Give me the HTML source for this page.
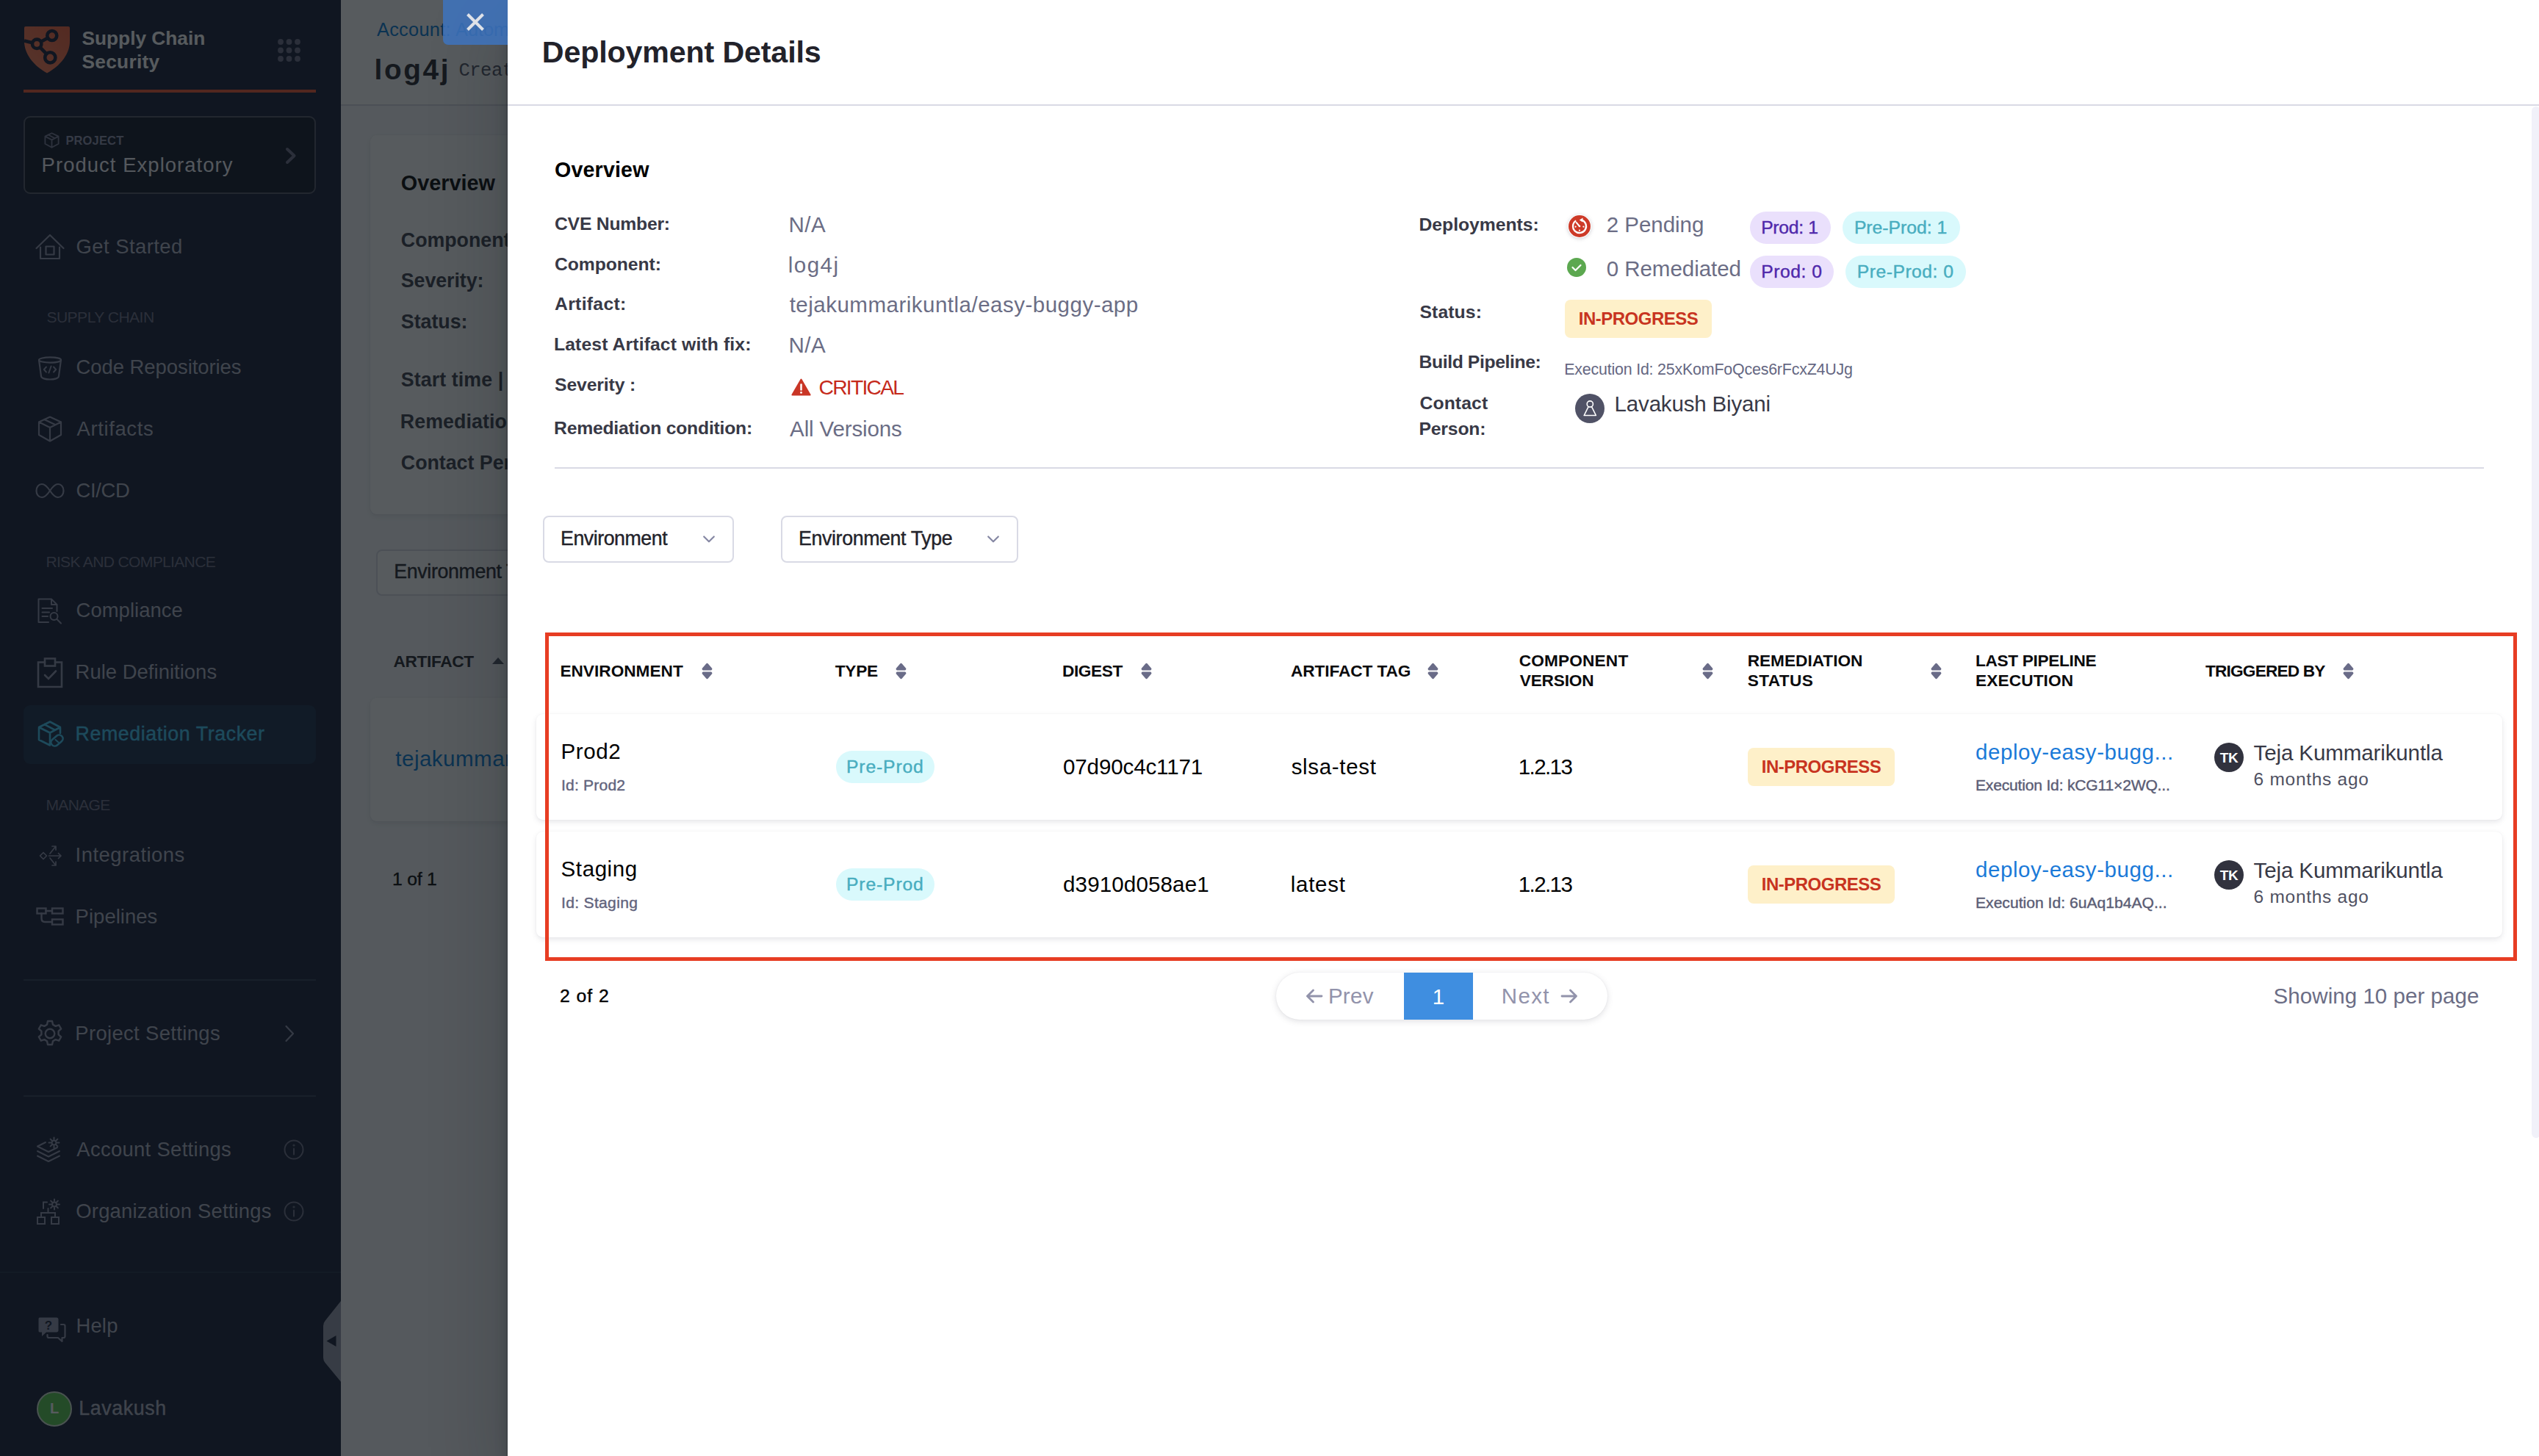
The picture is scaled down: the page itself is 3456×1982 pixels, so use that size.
<!DOCTYPE html>
<html lang="en"><head><meta charset="utf-8"><title>Deployment Details</title>
<style>
html,body{margin:0;padding:0}
html{background:#fff;overflow:hidden}
body{width:3456px;height:1982px;position:relative;overflow:hidden;background:#fafbfc;font-family:"Liberation Sans",sans-serif;}
.t{position:absolute;white-space:nowrap}
.a{position:absolute}
.clip{position:absolute;overflow:hidden;top:0;height:1982px}
.clip>.in{position:absolute;top:0;width:3456px;height:1982px}
#sidebar{left:0;width:464px;background:#111932}
#page{left:464px;width:240px;background:#f8f9fb}
#page>.in{left:-464px}
#overlay{position:absolute;left:0;top:0;width:3456px;height:1982px;background:rgba(16,22,26,.7)}
#drawer{left:691px;width:2765px;background:#fff}
#drawer>.in{left:-691px}
#dshadow{position:absolute;left:691px;top:0;width:2765px;height:1982px;box-shadow:0 0 0 2px rgba(16,22,26,.1),0 8px 16px rgba(16,22,26,.2),0 36px 92px 12px rgba(16,22,26,.2)}
svg{position:absolute;overflow:visible}
.ic{fill:none;stroke:#8e90aa;stroke-width:2.2;stroke-linecap:round;stroke-linejoin:round}
.pill{position:absolute;border-radius:40px;text-align:center;white-space:nowrap}
.badge{position:absolute;border-radius:8px;background:#fef0c9;color:#c8341f;font-weight:700;text-align:center;white-space:nowrap}
.card{position:absolute;background:#fff;border-radius:9px;box-shadow:0 0 2px rgba(40,41,61,.05),0 3px 7px rgba(96,97,112,.15)}
.sel{position:absolute;box-sizing:border-box;border:2px solid #d9dae5;border-radius:8px;background:#fff}
</style></head>
<body>
<!-- ============ SIDEBAR ============ -->
<div id="sidebar" class="clip"><div class="in">
<svg style="left:33px;top:36px" width="62" height="64" viewBox="0 0 62 64">
 <defs><linearGradient id="shg" x1="0" y1="1" x2="1" y2="0"><stop offset="0" stop-color="#ff8058"/><stop offset="1" stop-color="#f25c36"/></linearGradient></defs>
 <path d="M2 0H60Q62 0 62 2V20C62 37 50 53 31 63.500C12 53 0 37 0 20V2Q0 0 2 0Z" fill="url(#shg)"/>
 <g fill="none" stroke="#111932" stroke-width="4.600"><circle cx="37.800" cy="12.500" r="6.500"/><circle cx="17.200" cy="23.800" r="6.200"/><circle cx="35.300" cy="42.400" r="7.100"/><path d="M32 15.700L22.700 20.800M21.500 28.300L30.300 37.400M0 19.500L11.200 22.300"/></g>
</svg>
<svg style="left:378px;top:53px" width="31" height="31" viewBox="0 0 31 31" fill="#6b6d85">
 <circle cx="4" cy="4" r="3.9"/><circle cx="15.5" cy="4" r="3.9"/><circle cx="27" cy="4" r="3.9"/>
 <circle cx="4" cy="15.5" r="3.9"/><circle cx="15.5" cy="15.5" r="3.9"/><circle cx="27" cy="15.5" r="3.9"/>
 <circle cx="4" cy="27" r="3.9"/><circle cx="15.5" cy="27" r="3.9"/><circle cx="27" cy="27" r="3.9"/>
</svg>
<div class="a" style="left:32px;top:122px;width:398px;height:4px;background:#f0532d"></div>
<div class="a" style="left:32px;top:158px;width:398px;height:106px;box-sizing:border-box;border:2px solid #4f5162;border-radius:9px;background:rgba(0,0,0,.28)"></div>
<svg style="left:60px;top:180px" width="21" height="22" viewBox="0 0 21 22"><g class="ic" style="stroke:#74768f;stroke-width:1.8"><path d="M10.5 1.2L19.6 5.6V15.8L10.5 20.8L1.4 15.8V5.6ZM1.4 5.6L10.5 10.4L19.6 5.6M10.5 10.4V20.8M5.6 3.5L14.8 8.2"/></g></svg>
<svg style="left:388px;top:200px" width="16" height="24" viewBox="0 0 16 24"><path d="M3 3L12.5 12L3 21" fill="none" stroke="#6b6d85" stroke-width="4" stroke-linecap="round" stroke-linejoin="round"/></svg>

<!-- nav icons -->
<svg style="left:48px;top:318px" width="40" height="36" viewBox="0 0 40 36"><g class="ic"><path d="M1.5 20L20 2L38.5 20M7 18.5V34H33V18.5"/><rect x="14.5" y="17.5" width="11" height="11"/></g></svg>
<svg style="left:51px;top:485px" width="34" height="33" viewBox="0 0 34 33"><g class="ic"><ellipse cx="17" cy="5" rx="15" ry="3.6"/><path d="M2 5L5 27C5 30 11 31.5 17 31.5S29 30 29 27L32 5"/><path d="M12 14.5L8.8 18L12 21.5M22 14.5L25.2 18L22 21.5M18.6 13.5L15.4 22.5" style="stroke-width:1.9"/></g></svg>
<svg style="left:51px;top:566px" width="34" height="36" viewBox="0 0 34 36"><g class="ic"><path d="M17 1.5L32 8.5V26L17 34.5L2 26V8.5ZM2 8.5L17 16L32 8.5M17 16V34.5M9.2 5L24.5 12.2"/></g></svg>
<svg style="left:48px;top:657px" width="40" height="22" viewBox="0 0 40 22"><g class="ic"><path d="M20 11C16 5 13 2 9 2C4.5 2 1.5 6 1.5 11S4.5 20 9 20C13 20 16 17 20 11S27 2 31 2C35.5 2 38.5 6 38.5 11S35.5 20 31 20C27 20 24 17 20 11Z"/></g></svg>
<svg style="left:51px;top:814px" width="34" height="36" viewBox="0 0 34 36"><g class="ic" style="stroke-width:2"><path d="M15 33H1.5V1.5H19L26.5 9V18M19 1.5V9H26.5M6.5 14H20M6.5 19.5H16M6.5 25H14"/><circle cx="22.5" cy="25" r="5"/><path d="M26.3 28.8L32 34.5"/></g></svg>
<svg style="left:50px;top:895px" width="36" height="42" viewBox="0 0 36 42"><g class="ic" style="stroke-width:2.6;stroke-linejoin:miter"><path d="M11 6.5H2V40H34V6.5H25"/><rect x="11" y="1.5" width="14" height="10"/><path d="M11 24L16 29L26 18.5"/></g></svg>
<div class="a" style="left:32px;top:960px;width:398px;height:80px;border-radius:9px;background:rgba(61,150,220,.13)"></div>
<svg style="left:51px;top:981px" width="36" height="38" viewBox="0 0 36 38"><g class="ic" style="stroke:#3dc7f6;stroke-width:2.6"><path d="M17 33.5L2 26V9L17 1.5L31 9V17M2 9L17 16.5L31 9M17 16.5V33.5M9.5 5.2L24 12.8"/><rect x="17.5" y="22" width="18" height="10" rx="5" transform="rotate(-40 26.5 27)"/><path d="M24.5 26L28.5 29.5" style="stroke-width:2"/></g></svg>
<svg style="left:53px;top:1149px" width="32" height="32" viewBox="0 0 32 32"><g class="ic" style="stroke-width:1.7"><path d="M6 11.5L10.5 16L6 20.5L1.500 16ZM13.5 16H30M26.5 12.5L30 16L26.500 19.5M15 13L22.500 3.500M18 3H23V8M15 19L22.500 28.500M18 29H23V24"/></g></svg>
<svg style="left:49px;top:1235px" width="38" height="26" viewBox="0 0 38 26"><g class="ic" style="stroke-width:2.4;stroke-linejoin:miter"><rect x="1.5" y="1.5" width="12" height="7"/><rect x="22" y="1.5" width="14.5" height="7"/><rect x="22" y="16.5" width="14.5" height="7"/><path d="M13.5 5H22M7.5 8.5V15C7.500 18 9 20 12 20H22"/></g></svg>
<div class="a" style="left:32px;top:1333px;width:398px;height:2px;background:#2e3a52"></div>
<svg style="left:50px;top:1388px" width="36" height="38" viewBox="0 0 36 38"><g class="ic" style="stroke-width:2.4"><circle cx="18" cy="19" r="6.3"/><path d="M15 2h6l1 4.800 3.600 2.100 4.600-1.600 3 5.200-3.600 3.200v4.600l3.600 3.200-3 5.200-4.600-1.600-3.600 2.100-1 4.800h-6l-1-4.800-3.600-2.100-4.600 1.600-3-5.200 3.600-3.200v-4.600l-3.600-3.200 3-5.200 4.600 1.600 3.600-2.100z"/></g></svg>
<svg style="left:386px;top:1394px" width="16" height="26" viewBox="0 0 16 26"><path d="M3.500 3L13 13L3.500 23" fill="none" stroke="#8e90aa" stroke-width="2.200" stroke-linecap="round" stroke-linejoin="round"/></svg>
<div class="a" style="left:32px;top:1491px;width:398px;height:2px;background:#2e3a52"></div>
<svg style="left:49px;top:1547px" width="36" height="37" viewBox="0 0 36 37"><g class="ic" style="stroke-width:2"><path d="M13 8L2 13.500L17 21L29 15M2 20L17 27.500L32 20M2 26.500L17 34L32 26.500"/><circle cx="24.500" cy="8.500" r="3"/><path d="M24.500 1.500v2.500M24.500 13v2.500M17.500 8.500h2.500M29 8.500h2.500M19.600 3.600l1.700 1.700M27.700 11.700l1.700 1.700M29.400 3.600l-1.700 1.700M21.300 11.700l-1.700 1.700"/></g></svg>
<svg style="left:49px;top:1631px" width="36" height="37" viewBox="0 0 36 37"><g class="ic" style="stroke-width:2;stroke-linejoin:miter"><rect x="2" y="26" width="10" height="9"/><rect x="21" y="26" width="10" height="9"/><path d="M7 26V20H26V26M16.500 20V14M10 14V5.500H15"/><rect x="10" y="10" width="0.100" height="0.100" style="stroke:none"/><circle cx="25" cy="8.500" r="3"/><path d="M25 1.500v2.500M25 13v2.500M18 8.500h2.500M29.500 8.500h2.500M20.100 3.600l1.700 1.700M28.200 11.700l1.700 1.700M29.900 3.600l-1.700 1.700M21.800 11.700l-1.700 1.700"/></g></svg>
<svg style="left:386px;top:1551px" width="28" height="28" viewBox="0 0 28 28"><g class="ic" style="stroke:#6b6d85;stroke-width:2"><circle cx="14" cy="14" r="12.500"/><path d="M14 12.500V20.500"/><circle cx="14" cy="8" r="0.600"/></g></svg>
<svg style="left:386px;top:1635px" width="28" height="28" viewBox="0 0 28 28"><g class="ic" style="stroke:#6b6d85;stroke-width:2"><circle cx="14" cy="14" r="12.500"/><path d="M14 12.500V20.500"/><circle cx="14" cy="8" r="0.600"/></g></svg>
<div class="a" style="left:0;top:1731px;width:464px;height:2px;background:#1d2940"></div>
<svg style="left:52px;top:1792px" width="38" height="36" viewBox="0 0 38 36"><path d="M2 1.500H25C26.500 1.500 27.500 2.500 27.500 4V19C27.500 20.500 26.500 21.500 25 21.500H11L5 27V21.500H2C1 21.500 0.500 20.500 0.500 19.500V3.500C0.500 2.500 1 1.500 2 1.500Z" fill="#8e90aa"/><path d="M31 11H34.500C35.500 11 36.500 12 36.500 13V27C36.500 28.500 35.500 29 34.500 29H32.500V34L27 29H14.500C13 29 12.500 28 12.500 27V25" class="ic" style="stroke-width:2.200"/><text x="14" y="17.500" text-anchor="middle" font-family="Liberation Sans, sans-serif" font-weight="700" font-size="17" fill="#111932">?</text></svg>
<div class="a" style="left:50px;top:1894px;width:48px;height:48px;border-radius:50%;box-sizing:border-box;background:#55c84a;border:2px solid #cfe0d0"></div>
<svg style="left:440px;top:1771px" width="24" height="110" viewBox="0 0 24 110"><path d="M24 0L2.500 27Q0 30 0 34V77Q0 81 2.500 84L24 110Z" fill="#9498aa"/><path d="M4.500 54.500L17.500 47V62Z" fill="#111932"/></svg>
<span class="t" style="left:111.5px;top:38.9px;font-size:26.27px;line-height:26.27px;color:#ffffff;font-weight:700;">Supply Chain</span>
<span class="t" style="left:111.5px;top:71.1px;font-size:26.27px;line-height:26.27px;color:#ffffff;font-weight:700;letter-spacing:0.29px;">Security</span>
<span class="t" style="left:89.4px;top:183.0px;font-size:16.48px;line-height:16.48px;color:#8e90aa;font-weight:700;letter-spacing:0.17px;">PROJECT</span>
<span class="t" style="left:56.6px;top:210.7px;font-size:27.43px;line-height:27.43px;color:#f3f3fa;letter-spacing:1.06px;">Product Exploratory</span>
<span class="t" style="left:103.6px;top:321.7px;font-size:27.43px;line-height:27.43px;color:#b0b1c4;letter-spacing:0.44px;">Get Started</span>
<span class="t" style="left:63.4px;top:421.4px;font-size:21.1px;line-height:21.1px;color:#6b6d85;letter-spacing:-0.55px;">SUPPLY CHAIN</span>
<span class="t" style="left:103.6px;top:485.7px;font-size:27.43px;line-height:27.43px;color:#b0b1c4;letter-spacing:-0.04px;">Code Repositories</span>
<span class="t" style="left:104.6px;top:570.0px;font-size:27.43px;line-height:27.43px;color:#b0b1c4;letter-spacing:0.62px;">Artifacts</span>
<span class="t" style="left:103.6px;top:654.0px;font-size:27.43px;line-height:27.43px;color:#b0b1c4;letter-spacing:-0.38px;">CI/CD</span>
<span class="t" style="left:62.4px;top:753.6px;font-size:21.1px;line-height:21.1px;color:#6b6d85;letter-spacing:-0.69px;">RISK AND COMPLIANCE</span>
<span class="t" style="left:103.6px;top:817.0px;font-size:27.43px;line-height:27.43px;color:#b0b1c4;letter-spacing:0.04px;">Compliance</span>
<span class="t" style="left:102.6px;top:901.3px;font-size:27.43px;line-height:27.43px;color:#b0b1c4;letter-spacing:0.03px;">Rule Definitions</span>
<span class="t" style="left:102.6px;top:986.2px;font-size:26.78px;line-height:26.78px;color:#3dc7f6;-webkit-text-stroke:0.4px currentColor;letter-spacing:0.58px;">Remediation Tracker</span>
<span class="t" style="left:62.4px;top:1084.9px;font-size:21.1px;line-height:21.1px;color:#6b6d85;letter-spacing:-0.68px;">MANAGE</span>
<span class="t" style="left:102.6px;top:1149.7px;font-size:27.43px;line-height:27.43px;color:#b0b1c4;letter-spacing:0.49px;">Integrations</span>
<span class="t" style="left:102.6px;top:1233.7px;font-size:27.43px;line-height:27.43px;color:#b0b1c4;letter-spacing:0.05px;">Pipelines</span>
<span class="t" style="left:102.3px;top:1393.2px;font-size:27.43px;line-height:27.43px;color:#b0b1c4;letter-spacing:0.35px;">Project Settings</span>
<span class="t" style="left:104.3px;top:1551.0px;font-size:27.43px;line-height:27.43px;color:#b0b1c4;letter-spacing:0.31px;">Account Settings</span>
<span class="t" style="left:103.3px;top:1635.2px;font-size:27.43px;line-height:27.43px;color:#b0b1c4;letter-spacing:0.20px;">Organization Settings</span>
<span class="t" style="left:103.4px;top:1791.3px;font-size:27.43px;line-height:27.43px;color:#b0b1c4;letter-spacing:0.20px;">Help</span>
<span class="t" style="left:107.2px;top:1904.4px;font-size:26.78px;line-height:26.78px;color:#b0b1c4;-webkit-text-stroke:0.4px currentColor;letter-spacing:0.63px;">Lavakush</span>
<span class="t" style="left:68.0px;top:1907.2px;font-size:20.09px;line-height:20.09px;color:#ffffff;font-weight:700;">L</span>
</div></div>
<!-- ============ BACKGROUND PAGE ============ -->
<div id="page" class="clip"><div class="in">
<div class="a" style="left:464px;top:0;width:300px;height:142px;background:#fff;border-bottom:2px solid #d9dae5"></div>
<div class="card" style="left:504px;top:184px;width:300px;height:516px"></div>
<div class="sel" style="left:512px;top:748px;width:300px;height:63px;background:#fff"></div>
<svg style="left:670px;top:895px" width="16" height="9" viewBox="0 0 16 9"><path d="M8 0L16 9H0Z" fill="#4f5162"/></svg>
<div class="card" style="left:504px;top:950px;width:300px;height:168px"></div>
<span class="t" style="left:513.0px;top:28.0px;font-size:25.32px;line-height:25.32px;color:#0278d5;letter-spacing:0.29px;">Account:</span>
<span class="t" style="left:620.0px;top:28.0px;font-size:25.32px;line-height:25.32px;color:#0278d5;">Automation</span>
<span class="t" style="left:509.5px;top:75.9px;font-size:38.73px;line-height:38.73px;color:#22222a;font-weight:700;letter-spacing:2.68px;">log4j</span>
<span class="t" style="left:624.5px;top:84.4px;font-size:25.5px;line-height:25.5px;color:#4f5162;font-family:'Liberation Mono','DejaVu Sans Mono',monospace;letter-spacing:-0.5px;">Created</span>
<span class="t" style="left:545.8px;top:235.1px;font-size:28.84px;line-height:28.84px;color:#000000;font-weight:700;">Overview</span>
<span class="t" style="left:545.8px;top:313.7px;font-size:26.78px;line-height:26.78px;color:#383946;font-weight:700;">Component:</span>
<span class="t" style="left:545.8px;top:368.7px;font-size:26.78px;line-height:26.78px;color:#383946;font-weight:700;letter-spacing:-0.05px;">Severity:</span>
<span class="t" style="left:545.8px;top:425.2px;font-size:26.78px;line-height:26.78px;color:#383946;font-weight:700;">Status:</span>
<span class="t" style="left:545.8px;top:504.4px;font-size:26.78px;line-height:26.78px;color:#383946;font-weight:700;letter-spacing:0.09px;">Start time |</span>
<span class="t" style="left:544.8px;top:560.7px;font-size:26.78px;line-height:26.78px;color:#383946;font-weight:700;letter-spacing:0.10px;">Remediation</span>
<span class="t" style="left:545.8px;top:616.9px;font-size:26.78px;line-height:26.78px;color:#383946;font-weight:700;">Contact Person:</span>
<span class="t" style="left:536.3px;top:765.1px;font-size:26.78px;line-height:26.78px;color:#22222a;-webkit-text-stroke:0.4px currentColor;letter-spacing:-0.37px;">Environment Type</span>
<span class="t" style="left:535.4px;top:888.7px;font-size:22.66px;line-height:22.66px;color:#22222a;font-weight:700;letter-spacing:-0.34px;">ARTIFACT</span>
<span class="t" style="left:538.3px;top:1018.2px;font-size:29.54px;line-height:29.54px;color:#0278d5;letter-spacing:0.48px;">tejakummarikuntla/easy-buggy-app</span>
<span class="t" style="left:534.0px;top:1184.7px;font-size:24.72px;line-height:24.72px;color:#000000;-webkit-text-stroke:0.4px currentColor;letter-spacing:-0.20px;">1 of 1</span>
</div></div>
<div id="overlay"></div>
<!-- ============ DRAWER ============ -->
<div id="dshadow"></div>
<div class="a" id="closebtn" style="left:603px;top:0;width:88px;height:61px;background:rgba(62,115,190,.86);border-bottom-left-radius:7px">
<svg width="88" height="61" viewBox="0 0 88 61"><path d="M33.5 19.5L54.5 40.5M54.5 19.5L33.5 40.5" stroke="#dfe2e8" stroke-width="4" fill="none"/></svg>
</div>
<div id="drawer" class="clip"><div class="in">
<div class="a" style="left:691px;top:142px;width:2765px;height:2px;background:#d9dae5"></div>
<div class="a" style="left:3446px;top:145px;width:12px;height:1404px;border-radius:6px;background:#f1f1f9"></div>
<div class="a" style="left:755px;top:636px;width:2626px;height:2px;background:#d9dae5"></div>
<svg style="left:1076.500px;top:515.200px" width="27" height="24" viewBox="0 0 27 24"><path d="M13.500 1.600L25.600 22.600H1.400Z" fill="#c93626" stroke="#c93626" stroke-width="2" stroke-linejoin="round"/><path d="M13.500 8.400V15.600" stroke="#fff" stroke-width="2.500" stroke-linecap="round"/><circle cx="13.500" cy="19.400" r="1.450" fill="#fff"/></svg>
<div class="a" style="left:2134px;top:292px;width:32px;height:32px;border-radius:50%;background:#fff;box-shadow:0 1px 5px rgba(96,97,112,.30)"></div>
<svg style="left:2135px;top:293px" width="30" height="30" viewBox="0 0 30 30"><circle cx="15" cy="15" r="15" fill="#cd3a28"/><g fill="none" stroke="#fff" stroke-width="2.300" stroke-linecap="butt"><path d="M17.300 6.300A9 9 0 1 1 10.200 7.400"/><path d="M15 15L10.200 9.400" stroke-width="2"/></g><path d="M19.600 3.600L14.800 6.400L19.300 9.600Z" fill="#fff"/><g fill="#fff"><circle cx="9.600" cy="15.600" r="1.100"/><circle cx="20.400" cy="15.600" r="1.100"/><circle cx="15" cy="20.600" r="1.100"/><circle cx="15" cy="15" r="1.300"/></g></svg>
<svg style="left:2133px;top:351px" width="26" height="26" viewBox="0 0 26 26"><circle cx="13" cy="13" r="13" fill="#5ca850"/><path d="M7.500 13L11.500 17L18.500 10" fill="none" stroke="#fff" stroke-width="2.200" stroke-linecap="round" stroke-linejoin="round"/></svg>
<div class="pill" style="left:2382px;top:288px;width:110px;height:44px;background:#eae0fc"></div>
<div class="pill" style="left:2508px;top:288px;width:160px;height:44px;background:#d9f9fc"></div>
<div class="pill" style="left:2382px;top:348px;width:114px;height:44px;background:#eae0fc"></div>
<div class="pill" style="left:2512px;top:348px;width:164px;height:44px;background:#d9f9fc"></div>
<div class="badge" style="left:2130px;top:408px;width:200px;height:52px;line-height:51.5px;font-size:24px;letter-spacing:-0.5px">IN-PROGRESS</div>
<div class="a" style="left:2143.500px;top:536px;width:40px;height:40px;border-radius:50%;background:#505266"></div>
<svg style="left:2143.500px;top:536px" width="40" height="40" viewBox="0 0 40 40"><g fill="none" stroke="#fff" stroke-width="1.600" stroke-linejoin="round"><circle cx="20.300" cy="14" r="4.100"/><path d="M18.100 17.600L12.200 29.500H28.400L22.500 17.600"/></g></svg>
<div class="sel" style="left:739px;top:702px;width:260px;height:64px"></div>
<div class="sel" style="left:1063px;top:702px;width:323px;height:64px"></div>
<svg style="left:957.2px;top:729.2px" width="16" height="10" viewBox="0 0 16 10"><path d="M1.200 1.500L8 8.300L14.800 1.500" fill="none" stroke="#8587a3" stroke-width="2.200" stroke-linecap="round" stroke-linejoin="round"/></svg>
<svg style="left:1344px;top:729.2px" width="16" height="10" viewBox="0 0 16 10"><path d="M1.200 1.500L8 8.300L14.800 1.500" fill="none" stroke="#8587a3" stroke-width="2.200" stroke-linecap="round" stroke-linejoin="round"/></svg>
<div class="card" style="left:730px;top:971.500px;width:2676px;height:144.500px"></div>
<div class="card" style="left:730px;top:1131.500px;width:2676px;height:144.500px"></div>
<svg style="left:954.5px;top:901.5px" width="15" height="23" viewBox="0 0 15 23"><path d="M7.5 2.600L12.700 8.700H2.300ZM7.5 20.400L12.700 14.300H2.300Z" fill="#6a6c88" stroke="#6a6c88" stroke-width="3.400" stroke-linejoin="round"/></svg>
<svg style="left:1218.5px;top:901.5px" width="15" height="23" viewBox="0 0 15 23"><path d="M7.5 2.600L12.700 8.700H2.300ZM7.5 20.400L12.700 14.300H2.300Z" fill="#6a6c88" stroke="#6a6c88" stroke-width="3.400" stroke-linejoin="round"/></svg>
<svg style="left:1553.2px;top:901.5px" width="15" height="23" viewBox="0 0 15 23"><path d="M7.5 2.600L12.700 8.700H2.300ZM7.5 20.400L12.700 14.300H2.300Z" fill="#6a6c88" stroke="#6a6c88" stroke-width="3.400" stroke-linejoin="round"/></svg>
<svg style="left:1943.0px;top:901.5px" width="15" height="23" viewBox="0 0 15 23"><path d="M7.5 2.600L12.700 8.700H2.300ZM7.5 20.400L12.700 14.300H2.300Z" fill="#6a6c88" stroke="#6a6c88" stroke-width="3.400" stroke-linejoin="round"/></svg>
<svg style="left:2316.5px;top:901.5px" width="15" height="23" viewBox="0 0 15 23"><path d="M7.5 2.600L12.700 8.700H2.300ZM7.5 20.400L12.700 14.300H2.300Z" fill="#6a6c88" stroke="#6a6c88" stroke-width="3.400" stroke-linejoin="round"/></svg>
<svg style="left:2627.5px;top:901.5px" width="15" height="23" viewBox="0 0 15 23"><path d="M7.5 2.600L12.700 8.700H2.300ZM7.5 20.400L12.700 14.300H2.300Z" fill="#6a6c88" stroke="#6a6c88" stroke-width="3.400" stroke-linejoin="round"/></svg>
<svg style="left:3188.5px;top:901.5px" width="15" height="23" viewBox="0 0 15 23"><path d="M7.5 2.600L12.700 8.700H2.300ZM7.5 20.400L12.700 14.300H2.300Z" fill="#6a6c88" stroke="#6a6c88" stroke-width="3.400" stroke-linejoin="round"/></svg>
<div class="pill" style="left:1138.3px;top:1022px;width:133.4px;height:44px;background:#d9f9fc"></div>
<div class="badge" style="left:2379px;top:1018px;width:200px;height:52px;line-height:51.5px;font-size:24px;letter-spacing:-0.5px">IN-PROGRESS</div>
<div class="a" style="left:3014.1px;top:1010.9000000000001px;width:40px;height:40px;border-radius:50%;background:#31323e;color:#fff;font-weight:700;font-size:19px;line-height:41px;text-align:center;letter-spacing:-0.3px">TK</div>
<div class="pill" style="left:1138.3px;top:1182px;width:133.4px;height:44px;background:#d9f9fc"></div>
<div class="badge" style="left:2379px;top:1178px;width:200px;height:52px;line-height:51.5px;font-size:24px;letter-spacing:-0.5px">IN-PROGRESS</div>
<div class="a" style="left:3014.1px;top:1170.9px;width:40px;height:40px;border-radius:50%;background:#31323e;color:#fff;font-weight:700;font-size:19px;line-height:41px;text-align:center;letter-spacing:-0.3px">TK</div>
<div class="a" style="left:742px;top:861px;width:2684px;height:447px;box-sizing:border-box;border:5px solid #e73d23"></div>
<div class="a" style="left:1736.500px;top:1324px;width:451.500px;height:64px;border-radius:32px;background:#fff;box-shadow:0 0 2px rgba(40,41,61,.06),0 2px 8px rgba(96,97,112,.2)"></div>
<div class="a" style="left:1911px;top:1324px;width:94px;height:64px;background:#3f8ee0;color:#fff;font-size:29.500px;line-height:65px;text-align:center">1</div>
<svg style="left:1777px;top:1345px" width="24" height="22" viewBox="0 0 24 22"><path d="M22 11H2.500M10.500 3L2.500 11L10.500 19" fill="none" stroke="#9293ab" stroke-width="2.800" stroke-linecap="round" stroke-linejoin="round"/></svg>
<svg style="left:2124px;top:1345px" width="24" height="22" viewBox="0 0 24 22"><path d="M2 11H21.500M13.500 3L21.500 11L13.500 19" fill="none" stroke="#9293ab" stroke-width="2.800" stroke-linecap="round" stroke-linejoin="round"/></svg>
<span class="t" style="left:737.8px;top:51.0px;font-size:41.2px;line-height:41.2px;color:#22222a;font-weight:700;letter-spacing:-0.14px;">Deployment Details</span>
<span class="t" style="left:755.0px;top:217.4px;font-size:28.62px;line-height:28.62px;color:#000000;font-weight:700;letter-spacing:0.17px;">Overview</span>
<span class="t" style="left:755.0px;top:293.2px;font-size:24.72px;line-height:24.72px;color:#383946;font-weight:700;letter-spacing:-0.23px;">CVE Number:</span>
<span class="t" style="left:755.0px;top:347.8px;font-size:24.72px;line-height:24.72px;color:#383946;font-weight:700;letter-spacing:-0.06px;">Component:</span>
<span class="t" style="left:755.0px;top:402.1px;font-size:24.72px;line-height:24.72px;color:#383946;font-weight:700;letter-spacing:0.31px;">Artifact:</span>
<span class="t" style="left:754.0px;top:456.5px;font-size:24.72px;line-height:24.72px;color:#383946;font-weight:700;letter-spacing:0.12px;">Latest Artifact with fix:</span>
<span class="t" style="left:755.0px;top:511.6px;font-size:24.72px;line-height:24.72px;color:#383946;font-weight:700;letter-spacing:-0.11px;">Severity :</span>
<span class="t" style="left:754.0px;top:571.2px;font-size:24.72px;line-height:24.72px;color:#383946;font-weight:700;letter-spacing:-0.21px;">Remediation condition:</span>
<span class="t" style="left:1073.4px;top:291.3px;font-size:29.54px;line-height:29.54px;color:#6b6d85;letter-spacing:0.50px;">N/A</span>
<span class="t" style="left:1072.7px;top:345.9px;font-size:29.54px;line-height:29.54px;color:#6b6d85;letter-spacing:1.50px;">log4j</span>
<span class="t" style="left:1074.7px;top:399.9px;font-size:29.54px;line-height:29.54px;color:#6b6d85;letter-spacing:0.48px;">tejakummarikuntla/easy-buggy-app</span>
<span class="t" style="left:1073.4px;top:454.9px;font-size:29.54px;line-height:29.54px;color:#6b6d85;letter-spacing:0.50px;">N/A</span>
<span class="t" style="left:1114.5px;top:512.9px;font-size:28.27px;line-height:28.27px;color:#c52a1b;letter-spacing:-1.76px;">CRITICAL</span>
<span class="t" style="left:1075.1px;top:569.1px;font-size:29.54px;line-height:29.54px;color:#6b6d85;letter-spacing:-0.15px;">All Versions</span>
<span class="t" style="left:1931.5px;top:293.6px;font-size:24.72px;line-height:24.72px;color:#383946;font-weight:700;letter-spacing:-0.02px;">Deployments:</span>
<span class="t" style="left:1932.5px;top:413.1px;font-size:24.72px;line-height:24.72px;color:#383946;font-weight:700;letter-spacing:0.10px;">Status:</span>
<span class="t" style="left:1931.5px;top:480.9px;font-size:24.72px;line-height:24.72px;color:#383946;font-weight:700;letter-spacing:-0.38px;">Build Pipeline:</span>
<span class="t" style="left:1932.5px;top:536.9px;font-size:24.72px;line-height:24.72px;color:#383946;font-weight:700;letter-spacing:0.10px;">Contact</span>
<span class="t" style="left:1931.5px;top:572.4px;font-size:24.72px;line-height:24.72px;color:#383946;font-weight:700;letter-spacing:-0.18px;">Person:</span>
<span class="t" style="left:2186.7px;top:290.9px;font-size:29.54px;line-height:29.54px;color:#6b6d85;letter-spacing:-0.04px;">2 Pending</span>
<span class="t" style="left:2186.7px;top:350.5px;font-size:29.54px;line-height:29.54px;color:#6b6d85;letter-spacing:-0.05px;">0 Remediated</span>
<span class="t" style="left:2129.2px;top:492.7px;font-size:21.42px;line-height:21.42px;color:#656782;letter-spacing:-0.20px;">Execution Id: 25xKomFoQces6rFcxZ4UJg</span>
<span class="t" style="left:2197.6px;top:534.8px;font-size:29.54px;line-height:29.54px;color:#383946;letter-spacing:-0.19px;">Lavakush Biyani</span>
<span class="t" style="left:763.0px;top:719.7px;font-size:26.78px;line-height:26.78px;color:#22222a;-webkit-text-stroke:0.4px currentColor;letter-spacing:-0.46px;">Environment</span>
<span class="t" style="left:1087.0px;top:719.7px;font-size:26.78px;line-height:26.78px;color:#22222a;-webkit-text-stroke:0.4px currentColor;letter-spacing:-0.37px;">Environment Type</span>
<span class="t" style="left:762.4px;top:902.2px;font-size:22.66px;line-height:22.66px;color:#0b0b0d;font-weight:700;">ENVIRONMENT</span>
<span class="t" style="left:1136.7px;top:902.2px;font-size:22.66px;line-height:22.66px;color:#0b0b0d;font-weight:700;letter-spacing:-0.23px;">TYPE</span>
<span class="t" style="left:1446.0px;top:902.2px;font-size:22.66px;line-height:22.66px;color:#0b0b0d;font-weight:700;letter-spacing:-0.40px;">DIGEST</span>
<span class="t" style="left:1757.0px;top:902.2px;font-size:22.66px;line-height:22.66px;color:#0b0b0d;font-weight:700;letter-spacing:-0.09px;">ARTIFACT TAG</span>
<span class="t" style="left:2067.7px;top:888.4px;font-size:22.66px;line-height:22.66px;color:#0b0b0d;font-weight:700;letter-spacing:0.16px;">COMPONENT</span>
<span class="t" style="left:2068.7px;top:915.4px;font-size:22.66px;line-height:22.66px;color:#0b0b0d;font-weight:700;letter-spacing:-0.17px;">VERSION</span>
<span class="t" style="left:2378.7px;top:888.4px;font-size:22.66px;line-height:22.66px;color:#0b0b0d;font-weight:700;letter-spacing:-0.02px;">REMEDIATION</span>
<span class="t" style="left:2378.7px;top:915.4px;font-size:22.66px;line-height:22.66px;color:#0b0b0d;font-weight:700;letter-spacing:0.40px;">STATUS</span>
<span class="t" style="left:2689.0px;top:888.4px;font-size:22.66px;line-height:22.66px;color:#0b0b0d;font-weight:700;letter-spacing:-0.33px;">LAST PIPELINE</span>
<span class="t" style="left:2689.0px;top:915.4px;font-size:22.66px;line-height:22.66px;color:#0b0b0d;font-weight:700;letter-spacing:0.12px;">EXECUTION</span>
<span class="t" style="left:3002.0px;top:902.2px;font-size:22.66px;line-height:22.66px;color:#0b0b0d;font-weight:700;letter-spacing:-0.82px;">TRIGGERED BY</span>
<span class="t" style="left:763.6px;top:1007.9px;font-size:29.54px;line-height:29.54px;color:#000000;letter-spacing:0.55px;">Prod2</span>
<span class="t" style="left:764.0px;top:1058.1px;font-size:21.12px;line-height:21.12px;color:#62647d;-webkit-text-stroke:0.4px currentColor;letter-spacing:0.18px;">Id: Prod2</span>
<span class="t" style="left:1447.0px;top:1029.1px;font-size:29.54px;line-height:29.54px;color:#000000;letter-spacing:-0.12px;">07d90c4c1171</span>
<span class="t" style="left:1757.7px;top:1029.1px;font-size:29.54px;line-height:29.54px;color:#000000;letter-spacing:0.66px;">slsa-test</span>
<span class="t" style="left:2066.7px;top:1029.1px;font-size:29.54px;line-height:29.54px;color:#000000;letter-spacing:-1.58px;">1.2.13</span>
<span class="t" style="left:2689.0px;top:1008.8px;font-size:29.54px;line-height:29.54px;color:#1b7ad8;letter-spacing:0.54px;">deploy-easy-bugg...</span>
<span class="t" style="left:2689.0px;top:1057.8px;font-size:21.12px;line-height:21.12px;color:#5b5d75;-webkit-text-stroke:0.4px currentColor;letter-spacing:-0.21px;">Execution Id: kCG11×2WQ...</span>
<span class="t" style="left:3067.6px;top:1009.7px;font-size:29.54px;line-height:29.54px;color:#383946;letter-spacing:-0.12px;">Teja Kummarikuntla</span>
<span class="t" style="left:3067.6px;top:1049.0px;font-size:24.48px;line-height:24.48px;color:#4f5162;letter-spacing:0.73px;">6 months ago</span>
<span class="t" style="left:763.6px;top:1167.9px;font-size:29.54px;line-height:29.54px;color:#000000;letter-spacing:0.57px;">Staging</span>
<span class="t" style="left:764.0px;top:1218.1px;font-size:21.12px;line-height:21.12px;color:#62647d;-webkit-text-stroke:0.4px currentColor;letter-spacing:0.30px;">Id: Staging</span>
<span class="t" style="left:1447.0px;top:1189.1px;font-size:29.54px;line-height:29.54px;color:#000000;letter-spacing:0.14px;">d3910d058ae1</span>
<span class="t" style="left:1756.7px;top:1189.1px;font-size:29.54px;line-height:29.54px;color:#000000;letter-spacing:0.74px;">latest</span>
<span class="t" style="left:2066.7px;top:1189.1px;font-size:29.54px;line-height:29.54px;color:#000000;letter-spacing:-1.58px;">1.2.13</span>
<span class="t" style="left:2689.0px;top:1168.8px;font-size:29.54px;line-height:29.54px;color:#1b7ad8;letter-spacing:0.54px;">deploy-easy-bugg...</span>
<span class="t" style="left:2689.0px;top:1217.8px;font-size:21.12px;line-height:21.12px;color:#5b5d75;-webkit-text-stroke:0.4px currentColor;">Execution Id: 6uAq1b4AQ...</span>
<span class="t" style="left:3067.6px;top:1169.7px;font-size:29.54px;line-height:29.54px;color:#383946;letter-spacing:-0.12px;">Teja Kummarikuntla</span>
<span class="t" style="left:3067.6px;top:1209.0px;font-size:24.48px;line-height:24.48px;color:#4f5162;letter-spacing:0.73px;">6 months ago</span>
<span class="t" style="left:762.0px;top:1343.7px;font-size:24.72px;line-height:24.72px;color:#000000;-webkit-text-stroke:0.4px currentColor;letter-spacing:1.00px;">2 of 2</span>
<span class="t" style="left:1807.9px;top:1340.8px;font-size:29.54px;line-height:29.54px;color:#9293ab;letter-spacing:0.27px;">Prev</span>
<span class="t" style="left:2043.7px;top:1340.8px;font-size:29.54px;line-height:29.54px;color:#9293ab;letter-spacing:1.37px;">Next</span>
<span class="t" style="left:3094.6px;top:1341.1px;font-size:29.54px;line-height:29.54px;color:#6b6d85;letter-spacing:0.04px;">Showing 10 per page</span>
<span class="t" style="left:2397.2px;top:297.7px;font-size:24.72px;line-height:24.72px;color:#4f28ab;-webkit-text-stroke:0.4px currentColor;letter-spacing:-0.30px;">Prod: 1</span>
<span class="t" style="left:2523.9px;top:297.7px;font-size:24.72px;line-height:24.72px;color:#48adbf;-webkit-text-stroke:0.4px currentColor;letter-spacing:-0.01px;">Pre-Prod: 1</span>
<span class="t" style="left:2397.2px;top:357.7px;font-size:24.72px;line-height:24.72px;color:#4f28ab;-webkit-text-stroke:0.4px currentColor;letter-spacing:0.53px;">Prod: 0</span>
<span class="t" style="left:2527.8px;top:357.7px;font-size:24.72px;line-height:24.72px;color:#48adbf;-webkit-text-stroke:0.4px currentColor;letter-spacing:0.48px;">Pre-Prod: 0</span>
<span class="t" style="left:1152.0px;top:1031.7px;font-size:24.72px;line-height:24.72px;color:#48adbf;-webkit-text-stroke:0.4px currentColor;letter-spacing:0.84px;">Pre-Prod</span>
<span class="t" style="left:1152.0px;top:1191.7px;font-size:24.72px;line-height:24.72px;color:#48adbf;-webkit-text-stroke:0.4px currentColor;letter-spacing:0.84px;">Pre-Prod</span>
</div></div>
<script>
(function(){var w=window.innerWidth||3456;if(w&&Math.abs(w-3456)>1){document.body.style.zoom=(w/3456);}})();
</script>
</body></html>
